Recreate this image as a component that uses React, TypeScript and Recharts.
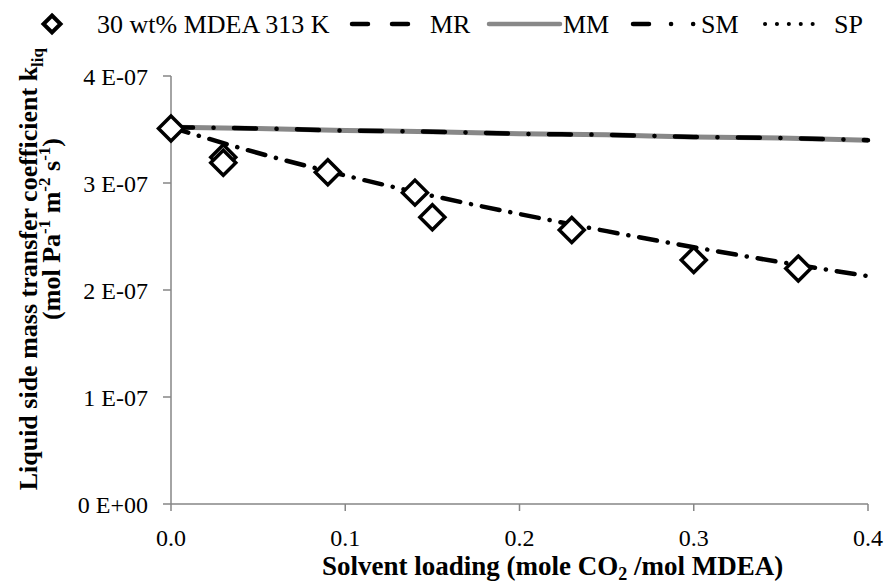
import { ComposedChart, Line, Scatter, XAxis, YAxis } from "recharts";

// k_liq values are in units of 1E-07 mol Pa-1 m-2 s-1
const loadingExp = [0, 0.03, 0.03, 0.09, 0.14, 0.15, 0.23, 0.3, 0.36];
const kExp = [3.51, 3.24, 3.19, 3.1, 2.91, 2.68, 2.56, 2.28, 2.2];

const loadingModel = [0, 0.05, 0.1, 0.15, 0.2, 0.25, 0.3, 0.35, 0.4];
const kMR = [3.52, 3.51, 3.49, 3.48, 3.46, 3.45, 3.43, 3.42, 3.4];
const kMM = [3.52, 3.51, 3.49, 3.48, 3.46, 3.45, 3.43, 3.42, 3.4];
const kSM = [3.52, 3.28, 3.07, 2.88, 2.71, 2.55, 2.4, 2.26, 2.13];
const kSP = [3.52, 3.51, 3.49, 3.48, 3.46, 3.45, 3.43, 3.42, 3.4];

const xTicks = [0, 0.1, 0.2, 0.3, 0.4];
const yTicks = [0, 1, 2, 3, 4];

const expData = loadingExp.map((x, i) => ({ x, k: kExp[i] }));
const series = (ks: number[]) => loadingModel.map((x, i) => ({ x, k: ks[i] }));

const FONT = "Liberation Serif, Tinos, Times New Roman, DejaVu Serif, Noto Serif, serif";
const AXIS = "#868686";

const Diamond = (p: any) => {
  const { cx, cy } = p;
  const r = 12.5;
  return (
    <path
      d={`M${cx},${cy - r}L${cx + r},${cy}L${cx},${cy + r}L${cx - r},${cy}Z`}
      fill="#fff"
      stroke="#000"
      strokeWidth={3.5}
    />
  );
};

function LegendBar() {
  const y = 24;
  const txt = { fontSize: 26, fill: "#000", fontFamily: FONT } as const;
  return (
    <svg width={886} height={44} style={{ position: "absolute", left: 0, top: 0 }}>
      <path d={`M52,${y - 8.5}L60.5,${y}L52,${y + 8.5}L43.5,${y}Z`} fill="#fff" stroke="#000" strokeWidth={4} />
      <text x={97} y={33} {...txt}>30 wt% MDEA 313 K</text>
      <line x1={352} x2={412} y1={y} y2={y} stroke="#000" strokeWidth={4.5} strokeLinecap="round" strokeDasharray="16 24" />
      <text x={430} y={33} {...txt}>MR</text>
      <line x1={489} x2={560} y1={y} y2={y} stroke="#888" strokeWidth={4.5} strokeLinecap="round" />
      <text x={563} y={33} {...txt}>MM</text>
      <line x1={633} x2={697} y1={y} y2={y} stroke="#000" strokeWidth={4.5} strokeLinecap="round" strokeDasharray="16 22 0.1 22 0.1 40" />
      <text x={701} y={33} {...txt}>SM</text>
      <line x1={765} x2={824} y1={y} y2={y} stroke="#000" strokeWidth={4} strokeLinecap="round" strokeDasharray="0.1 11.8" />
      <text x={834} y={33} {...txt}>SP</text>
    </svg>
  );
}

const YLabel = () => (
  <g fontFamily={FONT} fontWeight="bold" fontSize={26} fill="#000">
    <text x={37} y={48} textAnchor="end" transform="rotate(-90 37 48)">
      Liquid side  mass transfer coefficient k
      <tspan fontSize={17} dy={6}>liq</tspan>
    </text>
    <text x={60} y={138} textAnchor="end" transform="rotate(-90 60 138)">
      (mol Pa<tspan fontSize={17} dy={-10}>-1</tspan>
      <tspan dy={10}> m</tspan>
      <tspan fontSize={17} dy={-10}>-2</tspan>
      <tspan dy={10}> s</tspan>
      <tspan fontSize={17} dy={-10}>-1</tspan>
      <tspan dy={10}>)</tspan>
    </text>
  </g>
);

const XLabel = () => (
  <text x={322} y={575} fontFamily={FONT} fontWeight="bold" fontSize={27} fill="#000">
    Solvent loading (mole CO<tspan fontSize={18} dy={5}>2</tspan>
    <tspan dy={-5}> /mol MDEA)</tspan>
  </text>
);

export default function App() {
  return (
    <div style={{ position: "absolute", left: 0, top: 0, width: 886, height: 584, background: "#fff" }}>
      <LegendBar />
      <ComposedChart width={886} height={584} margin={{ top: 76, right: 18, bottom: 0, left: 0 }}>
        <XAxis
          dataKey="x"
          type="number"
          domain={[0, 0.4]}
          ticks={xTicks}
          tickFormatter={(v: number) => v.toFixed(1)}
          height={80}
          stroke={AXIS}
          strokeWidth={1.5}
          tickSize={7}
          tickMargin={18}
          tick={{ fill: "#000", fontFamily: FONT, fontSize: 24 }}
          label={{ content: () => <XLabel /> }}
          allowDuplicatedCategory={false}
        />
        <YAxis
          dataKey="k"
          type="number"
          domain={[0, 4]}
          ticks={yTicks}
          tickFormatter={(v: number) => (v === 0 ? "0 E+00" : `${v} E-07`)}
          width={171}
          stroke={AXIS}
          strokeWidth={1.5}
          tickSize={8}
          tickMargin={15}
          tick={{ fill: "#000", fontFamily: FONT, fontSize: 24 }}
          label={{ content: () => <YLabel /> }}
        />
        <Scatter data={expData} dataKey="k" shape={Diamond} isAnimationActive={false} />
        <Line data={series(kMM)} dataKey="k" type="monotone" stroke="#888" strokeWidth={5} dot={false} isAnimationActive={false} />
        <Line data={series(kMR)} dataKey="k" type="monotone" stroke="#000" strokeWidth={4.5} strokeLinecap="round" strokeDasharray="22 41" dot={false} isAnimationActive={false} />
        <Line data={series(kSP)} dataKey="k" type="monotone" stroke="#000" strokeWidth={4.5} strokeLinecap="round" strokeDasharray="0.1 62.9" strokeDashoffset={-42.5} dot={false} isAnimationActive={false} />
        <Line data={series(kSM)} dataKey="k" type="monotone" stroke="#000" strokeWidth={4.5} strokeLinecap="round" strokeDasharray="18 11 0.1 11" dot={false} isAnimationActive={false} />
      </ComposedChart>
    </div>
  );
}
